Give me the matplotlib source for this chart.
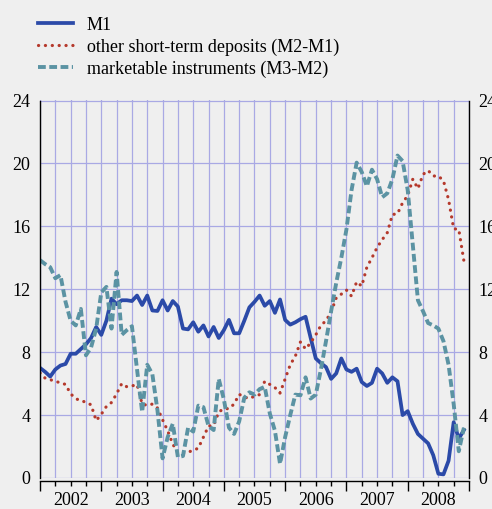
import matplotlib
matplotlib.use("Agg")
import matplotlib.pyplot as plt
import numpy as np

# monthly observations, Jan 2002 .. Dec 2008 (annual growth rates, %)
YEARS = ["2002", "2003", "2004", "2005", "2006", "2007", "2008"]

M1 = [7.0, 6.75, 6.45, 6.9, 7.15, 7.25, 7.9, 7.9, 8.2, 8.5, 8.9, 9.6,
      9.1, 10.0, 11.4, 11.05, 11.3, 11.3, 11.25, 11.6, 11.0, 11.6, 10.65, 10.62,
      11.3, 10.65, 11.25, 10.9, 9.5, 9.45, 9.9, 9.3, 9.7, 9.0, 9.6, 8.9,
      9.4, 10.05, 9.2, 9.2, 10.0, 10.85, 11.2, 11.6, 10.95, 11.25, 10.5, 11.35,
      10.05, 9.75, 9.9, 10.1, 10.25, 8.9, 7.6, 7.3, 7.05, 6.3, 6.65, 7.6,
      6.9, 6.75, 6.95, 6.1, 5.85, 6.05, 6.95, 6.65, 6.05, 6.4, 6.15, 4.0,
      4.25, 3.45, 2.8, 2.5, 2.2, 1.45, 0.27, 0.23, 1.1, 3.55, 2.5, 3.05]

DEPOSITS = [6.68, 6.35, 6.25, 6.15, 6.05, 5.95, 5.35, 5.05, 4.9, 4.83, 4.65, 3.65,
            4.05, 4.55, 4.8, 5.35, 6.0, 5.8, 5.85, 5.95, 4.7, 4.62, 4.7, 4.45,
            3.7, 3.0, 2.15, 1.62, 1.58, 1.65, 1.75, 1.9, 2.6, 3.3, 3.35, 4.2,
            4.4, 4.41, 4.7, 5.32, 5.15, 5.05, 5.2, 5.3, 6.15, 5.95, 5.75, 5.4,
            6.3, 7.2, 7.75, 8.65, 8.2, 8.6, 9.1, 9.7, 10.0, 10.55, 11.45, 11.69,
            11.95, 11.56, 12.47, 12.2, 13.4, 14.0, 14.65, 15.15, 15.6, 16.75, 16.8, 17.5,
            17.95, 19.0, 18.4, 19.3, 19.55, 19.2, 19.2, 18.9, 17.7, 15.85, 15.8, 13.8]

MARKETABLE = [13.85, 13.6, 13.4, 12.7, 12.9, 11.2, 10.0, 9.7, 10.75, 7.8, 8.3, 9.5,
              11.8, 12.15, 9.5, 13.1, 9.1, 9.4, 9.65, 6.9, 4.2, 7.2, 6.6, 4.3,
              1.25, 2.6, 3.45, 1.33, 1.4, 3.2, 2.95, 4.6, 4.5, 3.3, 3.05, 6.3,
              5.0, 3.2, 2.8, 3.6, 5.1, 5.45, 5.3, 5.65, 5.8, 4.1, 3.0, 0.9,
              2.6, 4.0, 5.3, 5.26, 6.4, 5.05, 5.3, 6.9, 8.7, 10.6, 12.4, 14.0,
              15.8, 18.3, 20.05, 19.45, 18.55, 19.6, 19.0, 17.85, 18.1, 19.0, 20.5, 20.15,
              18.3, 14.8, 11.3, 10.6, 9.85, 9.7, 9.5, 8.7, 7.2, 4.7, 1.7, 3.2]

LABELS = ["M1", "other short-term deposits (M2-M1)", "marketable instruments (M3-M2)"]

BG = "#efefef"
GRID = "#a9a9e4"
BLUE = "#2b4aa8"
RED = "#b5392c"
TEAL = "#5b93a3"

plt.rcParams["font.family"] = ["Liberation Serif", "DejaVu Serif"]

months = np.arange(len(M1))
n_months = len(YEARS) * 12

fig = plt.figure(figsize=(4.92, 5.09), dpi=100, facecolor=BG)
ax = fig.add_axes([40 / 492, 31 / 509, 429 / 492, 377.5 / 509], facecolor=BG)

ax.plot(months, M1, color=BLUE, lw=2.7, solid_joinstyle="round", label=LABELS[0])
ax.plot(months, DEPOSITS, color=RED, lw=2.3, ls=(0, (0.05, 2.1)),
        dash_capstyle="round", label=LABELS[1])
ax.plot(months, MARKETABLE, color=TEAL, lw=2.8, ls=(0, (2.0, 0.9)),
        dash_capstyle="butt", label=LABELS[2])

ax.set_xlim(0, n_months)
ax.set_ylim(0, 24)
ax.set_yticks(np.arange(0, 25, 4))

# year boundaries (long ticks) and quarters (short ticks, carry the year labels)
ax.set_xticks(np.arange(0, n_months + 1, 12))
ax.set_xticklabels([])
quarters = [q for q in range(3, n_months, 3) if q % 12]
ax.set_xticks(quarters, minor=True)
ax.set_xticklabels([YEARS[q // 12] if q % 12 == 6 else "" for q in quarters], minor=True)

ax.grid(True, which="both", axis="x", color=GRID, lw=0.9)
ax.grid(True, which="major", axis="y", color=GRID, lw=0.9)
ax.set_axisbelow(True)

ax.tick_params(axis="x", which="major", direction="out", length=7, width=1.0, color="black")
ax.tick_params(axis="x", which="minor", direction="out", length=3.5, width=1.0,
               color="black", labelsize=13, pad=4)
ax.tick_params(axis="y", length=0, labelsize=13, pad=7, labelright=True)

for side in ("left", "right"):
    ax.spines[side].set_color("black")
    ax.spines[side].set_linewidth(1.0)
ax.spines["top"].set_visible(False)
ax.spines["bottom"].set_position(("outward", 2.5))
ax.spines["bottom"].set_linewidth(1.0)

fig.legend(loc="upper left", bbox_to_anchor=(38 / 492, 1 - 16.5 / 509), frameon=False,
           fontsize=13, handlelength=1.95, handletextpad=0.75, labelspacing=0.26,
           borderpad=0, borderaxespad=0)

fig.savefig("out.png", dpi=100, facecolor=BG)
